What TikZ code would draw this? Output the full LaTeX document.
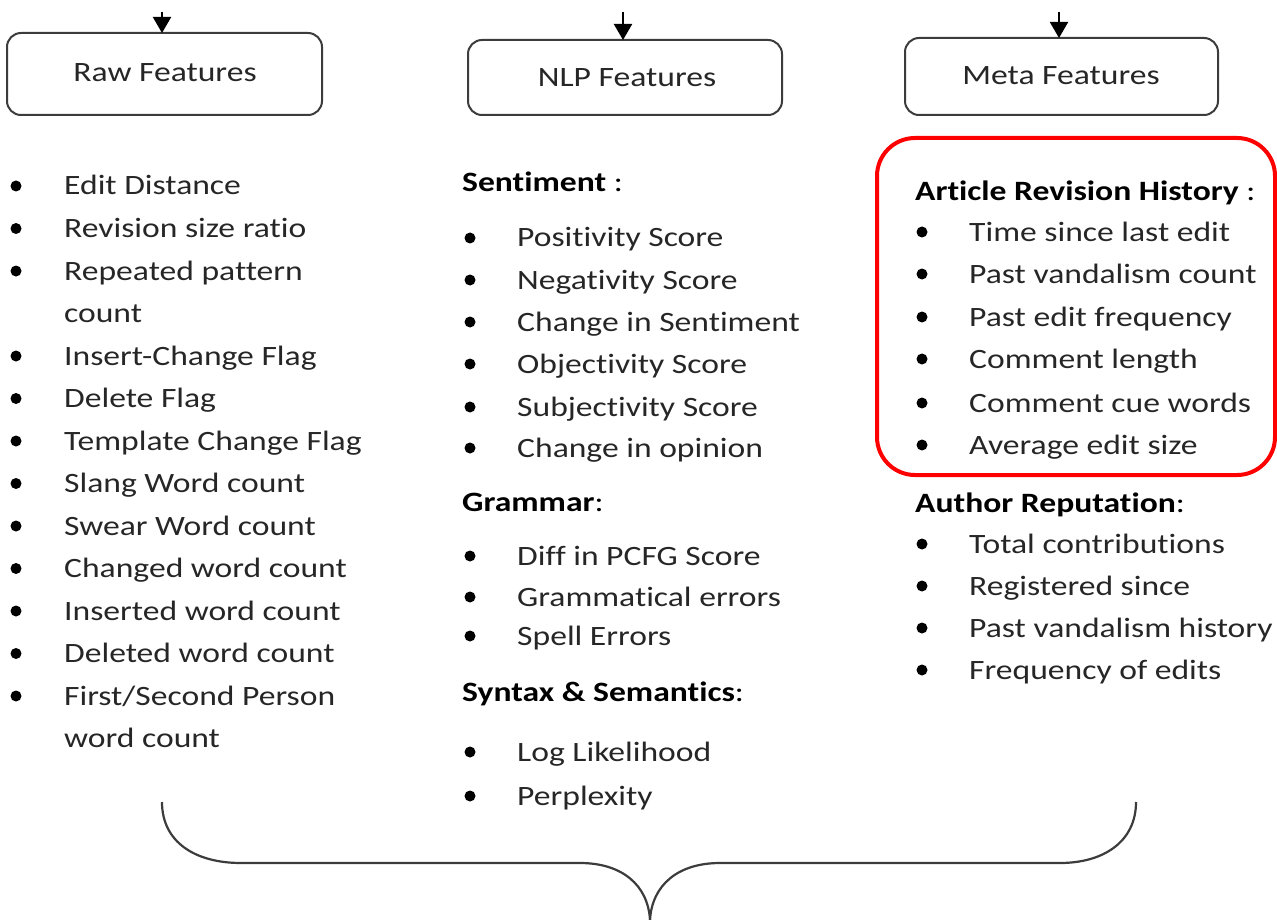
\documentclass[tikz,border=0pt]{standalone}
\usepackage{fontspec}
\setmainfont{Carlito}[FakeStretch=1.2, Ligatures={NoCommon}]
\usetikzlibrary{arrows.meta}
\definecolor{ink}{RGB}{38,38,38}
\definecolor{edge}{RGB}{60,60,60}
\definecolor{hl}{RGB}{255,0,0}
\tikzset{
  catbox/.style={draw=edge, line width=2pt, rounded corners=14pt, fill=white},
  cattext/.style={anchor=base, inner sep=0pt, text=ink, font=\fontsize{28}{34}\selectfont},
  item/.style={anchor=base west, inner sep=0pt, text=ink, font=\fontsize{28}{34}\selectfont},
  heading/.style={anchor=base west, inner sep=0pt, text=black, font=\fontsize{28}{34}\selectfont},
  dot/.style={fill=black},
  feed/.style={draw=black, line width=2pt, -{Triangle[width=18pt,length=16pt]}},
  brace/.style={draw=edge, line width=2.2pt}
}
\begin{document}
\begin{tikzpicture}[x=1pt,y=-1pt]
\useasboundingbox (0,0) rectangle (1277,920);

% category boxes
\draw[catbox] (7,33) rectangle (322,115);
\draw[catbox] (468,40) rectangle (782,115);
\draw[catbox] (905,38) rectangle (1218,115);
\node[cattext] (raw) at (165,82) {Raw Features};
\node[cattext] (nlp) at (627,87) {NLP Features};
\node[cattext] (meta) at (1061,85) {Meta Features};

% incoming arrows
\coordinate (rawin) at (162,12);
\coordinate (rawtop) at (162,33);
\coordinate (nlpin) at (623,12);
\coordinate (nlptop) at (623,40);
\coordinate (metain) at (1059,12);
\coordinate (metatop) at (1059,38);
\draw[feed] (rawin) -- (rawtop);
\draw[feed] (nlpin) -- (nlptop);
\draw[feed] (metain) -- (metatop);

% raw features list (b=1: line starts a new bullet)
\foreach \n/\t/\b in {0/{Edit Distance}/1, 1/{Revision size ratio}/1, 2/{Repeated pattern}/1,
  3/{count}/0, 4/{Insert-Change Flag}/1, 5/{Delete Flag}/1, 6/{Template Change Flag}/1,
  7/{Slang Word count}/1, 8/{Swear Word count}/1, 9/{Changed word count}/1,
  10/{Inserted word count}/1, 11/{Deleted word count}/1, 12/{First/Second Person}/1,
  13/{word count}/0}{
  \pgfmathsetmacro{\yy}{195+42.5*\n}
  \node[item] (raw-\n) at (64,\yy) {\t};
  \ifnum\b=1 \fill[dot] (16,\yy-9) circle (5.5); \fi
}

% NLP features
\node[heading] (sent) at (462,192) {\textbf{Sentiment} :};
\foreach \y/\t [count=\i] in {247/{Positivity Score}, 289/{Negativity Score},
  331/{Change in Sentiment}, 373/{Objectivity Score}, 416/{Subjectivity Score},
  457/{Change in opinion}}{
  \node[item] (sent-\i) at (517,\y) {\t};
  \fill[dot] (470,\y-9) circle (5.5);
}
\node[heading] (gram) at (462,511) {\textbf{Grammar}:};
\foreach \y/\t [count=\i] in {565/{Diff in PCFG Score}, 606/{Grammatical errors},
  645/{Spell Errors}}{
  \node[item] (gram-\i) at (517,\y) {\t};
  \fill[dot] (470,\y-9) circle (5.5);
}
\node[heading] (syn) at (462,701) {\textbf{Syntax \& Semantics}:};
\foreach \y/\t [count=\i] in {761/{Log Likelihood}, 805/{Perplexity}}{
  \node[item] (syn-\i) at (517,\y) {\t};
  \fill[dot] (470,\y-9) circle (5.5);
}

% meta features
\node[heading] (hist) at (915,201) {\textbf{Article Revision History} :};
\foreach \y/\t [count=\i] in {241/{Time since last edit}, 283/{Past vandalism count},
  326/{Past edit frequency}, 368/{Comment length}, 412/{Comment cue words},
  454/{Average edit size}}{
  \node[item] (hist-\i) at (969,\y) {\t};
  \fill[dot] (922,\y-9) circle (5.5);
}
\node[heading] (auth) at (915,512) {\textbf{Author Reputation}:};
\foreach \y/\t [count=\i] in {553/{Total contributions}, 595/{Registered since},
  637/{Past vandalism history}, 679/{Frequency of edits}}{
  \node[item] (auth-\i) at (969,\y) {\t};
  \fill[dot] (922,\y-9) circle (5.5);
}

% highlight round the revision history group
\draw[hl, line width=4pt, rounded corners=38pt] (877,138) rectangle (1275,475);

% closing brace under the three columns
\coordinate (bl) at (162,802);
\coordinate (br) at (1136,802);
\coordinate (tip) at (650,920);
\draw[brace] (bl) .. controls (162,842) and (195,863) .. (241,863)
  -- (580,863) .. controls (622,863) and (648,885) .. (tip);
\draw[brace] (br) .. controls (1136,842) and (1103,863) .. (1060,863)
  -- (720,863) .. controls (678,863) and (652,885) .. (tip);
\end{tikzpicture}
\end{document}
